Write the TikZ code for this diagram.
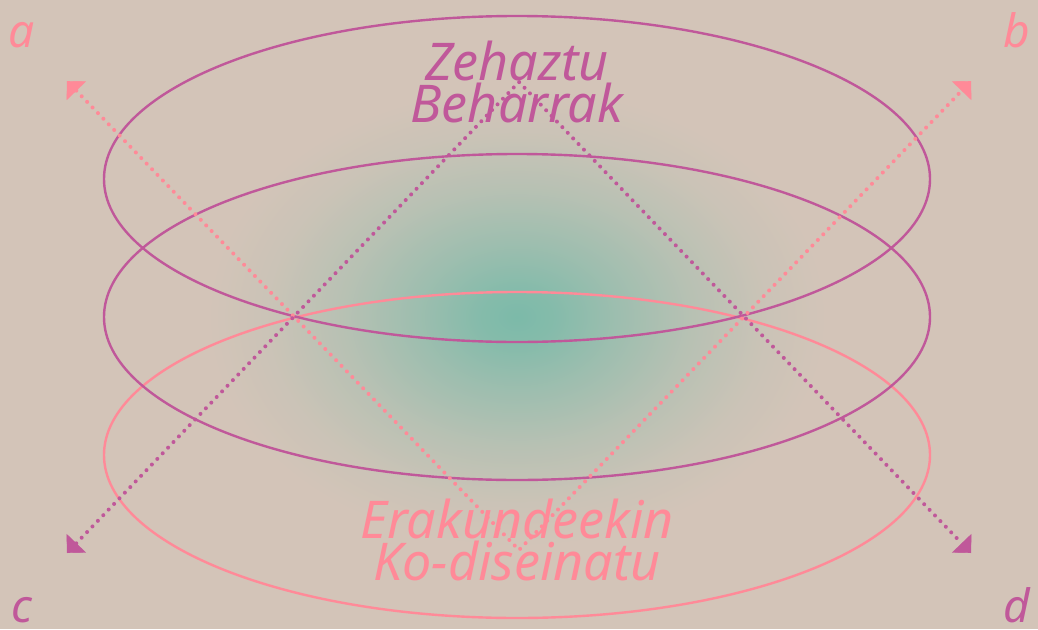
\documentclass[tikz,border=0pt]{standalone}
\usepackage{fontspec}
\setmainfont{Noto Sans}
\usetikzlibrary{arrows.meta}
\definecolor{bg}{RGB}{211,196,184}
\definecolor{purp}{RGB}{192,88,154}
\definecolor{pinkc}{RGB}{255,138,152}
\definecolor{glowc}{RGB}{124,186,169}
\pgfdeclareradialshading{glow}{\pgfpoint{0bp}{0bp}}{color(0bp)=(glowc); color(3bp)=(glowc!90!bg); color(8bp)=(glowc!62!bg); color(14bp)=(glowc!32!bg); color(20bp)=(glowc!10!bg); color(25bp)=(bg); color(50bp)=(bg)}
\tikzset{
  ring/.style={line width=2.4pt},
  dotline/.style={line width=4pt, line cap=round, dash pattern=on 0pt off 7.8pt},
  tip/.style={{Triangle[length=13.5pt,width=27pt,line width=0.4pt]}-{Triangle[length=13.5pt,width=27pt,line width=0.4pt]}},
  title/.style={font=\fontsize{52}{42}\selectfont\itshape, align=center, inner sep=0pt},
  lab/.style={font=\fontsize{46}{46}\selectfont\itshape, inner sep=0pt, anchor=base}
}
\begin{document}
\begin{tikzpicture}[x=1pt,y=-1pt]
\fill[bg] (0,0) rectangle (1038,629);
\useasboundingbox (0,0) rectangle (1038,629);
\shade[shading=glow] (517,317) ellipse [x radius=310, y radius=230];
% rings
\draw[pinkc, ring] (517,455) ellipse [x radius=413, y radius=163];
\draw[purp, ring] (517,179) ellipse [x radius=413, y radius=163];
\draw[purp, ring] (517,317) ellipse [x radius=413, y radius=163];
% titles
\node[title, text=purp] (top) at (517,82) {Zehaztu\\Beharrak};
\node[title, text=pinkc] (bot) at (517,540) {Erakundeekin\\Ko-diseinatu};
% corner labels
\node[lab, text=pinkc] (la) at (22,47) {a};
\node[lab, text=pinkc] (lb) at (1017,47) {b};
\node[lab, text=purp] (lc) at (22,622) {c};
\node[lab, text=purp] (ld) at (1017,622) {d};
% axes
\coordinate (a1) at (67,81);
\coordinate (b1) at (971,81);
\coordinate (c1) at (67,553);
\coordinate (d1) at (971,553);
\coordinate (pv) at (519,550);
\coordinate (pa) at (519,82);
\draw[pinkc, dotline, tip] (a1) -- (pv) -- (b1);
\draw[purp, dotline, tip] (c1) -- (pa) -- (d1);
\end{tikzpicture}
\end{document}
